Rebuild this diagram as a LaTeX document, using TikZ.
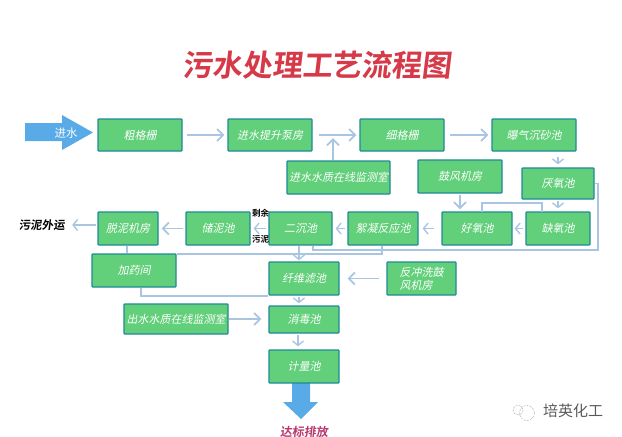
\documentclass[tikz,border=0pt]{standalone}
\usepackage{fontspec}
\usetikzlibrary{arrows.meta,calc}
\newfontfamily\cjkreg{Noto Sans CJK SC}
\newfontfamily\cjkmed{Noto Sans CJK SC Bold}
\newfontfamily\cjkit[FakeSlant=0.2]{Noto Sans CJK SC}
\newfontfamily\cjkbold[FakeSlant=0.12]{Noto Sans CJK SC Bold}
\definecolor{boxfill}{HTML}{62CF7A}
\definecolor{boxline}{HTML}{1F8A96}
\definecolor{flowline}{HTML}{A9C5E2}
\definecolor{bigblue}{HTML}{58ABE6}
\definecolor{titlered}{HTML}{D63A48}
\definecolor{endred}{HTML}{B8386E}
\tikzset{
  box/.style={draw=boxline,fill=boxfill,line width=1.3pt,rounded corners=0.8pt,inner sep=0pt,
    text=white,font=\cjkit\fontsize{11}{13}\selectfont},
  flow/.style={draw=flowline,line width=1.8pt,-{Straight Barb[length=6pt,width=12pt,line width=1.8pt]}},
  flowsmall/.style={draw=flowline,line width=1.4pt,-{Straight Barb[length=4.5pt,width=11pt,line width=1.4pt]}},
  pipe/.style={draw=flowline,line width=1.5pt},
  blacklabel/.style={inner sep=0pt,text=black},
}
\begin{document}
\begin{tikzpicture}[x=1pt,y=-1pt]
\useasboundingbox (0,0) rectangle (622,437);
% title
\node[inner sep=0pt,text=titlered,font=\cjkbold\fontsize{30}{32}\selectfont] (title) at (317,65) {污水处理工艺流程图};
% big arrows
\fill[bigblue] (25,123) -- (62,123) -- (62,115) -- (93,132.5) -- (62,150) -- (62,141) -- (25,141) -- cycle;
\fill[bigblue] (292,383) -- (310,383) -- (310,402) -- (318,402) -- (301,419) -- (283,402) -- (292,402) -- cycle;
\node[inner sep=0pt,text=white,font=\cjkreg\fontsize{11.5}{13}\selectfont] (inflow) at (66,133) {进水};
% boxes
\node[box,minimum width=84pt,minimum height=32pt] (cu) at (140,135) {粗格栅};
\node[box,minimum width=84pt,minimum height=32pt] (beng) at (270,135) {进水提升泵房};
\node[box,minimum width=84pt,minimum height=32pt] (xi) at (402,135) {细格栅};
\node[box,minimum width=84pt,minimum height=32pt] (chensha) at (534,135) {曝气沉砂池};
\node[box,minimum width=103pt,minimum height=33pt] (jinjian) at (338.5,177.5) {进水水质在线监测室};
\node[box,minimum width=84pt,minimum height=33pt] (gufeng) at (460,176.5) {鼓风机房};
\node[box,minimum width=72pt,minimum height=31pt] (yan) at (558,183.5) {厌氧池};
\node[box,minimum width=64pt,minimum height=33pt] (que) at (558,228.5) {缺氧池};
\node[box,minimum width=70pt,minimum height=33pt] (hao) at (477,228.5) {好氧池};
\node[box,minimum width=70pt,minimum height=33pt] (xu) at (383,228.5) {絮凝反应池};
\node[box,minimum width=63pt,minimum height=33pt] (er) at (300.5,228.5) {二沉池};
\node[box,minimum width=64pt,minimum height=33pt] (chu) at (218,228.5) {储泥池};
\node[box,minimum width=60pt,minimum height=33pt] (tuo) at (128,228.5) {脱泥机房};
\node[box,minimum width=84pt,minimum height=33pt] (jia) at (134,270.5) {加药间};
\node[box,minimum width=70pt,minimum height=33pt] (xian) at (304,278.5) {纤维滤池};
\node[box,minimum width=69pt,minimum height=33pt,align=left] (fan) at (421.5,278.5) {反冲洗鼓\\风机房};
\node[box,minimum width=104pt,minimum height=30pt] (chujian) at (176,319) {出水水质在线监测室};
\node[box,minimum width=70pt,minimum height=27pt] (xiao) at (304,319.5) {消毒池};
\node[box,minimum width=70pt,minimum height=33pt] (ji) at (304,366.5) {计量池};
% labels
\node[blacklabel,font=\cjkbold\fontsize{11.5}{13}\selectfont] (wai) at (42,225) {污泥外运};
\node[blacklabel,font=\cjkmed\fontsize{8.5}{10}\selectfont] (sheng) at (260.5,213) {剩余};
\node[blacklabel,font=\cjkmed\fontsize{8.5}{10}\selectfont] (wu) at (260.5,239) {污泥};
\node[inner sep=0pt,text=endred,font=\cjkbold\fontsize{12}{14}\selectfont] (da) at (304,431.5) {达标排放};
\node[inner sep=0pt,text=black!65,font=\cjkreg\fontsize{15}{17}\selectfont] (pei) at (573,411) {培英化工};
% watermark icon
\draw[black!40,densely dotted,line width=0.6pt] (527,413) circle (7.5);
\draw[black!40,densely dotted,line width=0.6pt] (518,410) circle (5);
% straight connectors
\draw[flow,shorten <=4pt,shorten >=3pt] (cu) -- (beng);
\draw[flow,shorten <=6pt,shorten >=3pt] (beng) -- (xi);
\draw[flow,shorten <=5pt,shorten >=3pt] (xi) -- (chensha);
\draw[flow] (jinjian.north -| 333,0) -- (333,138);
\draw[flowsmall,shorten <=5pt,shorten >=3pt] (chensha.south -| yan.north) -- (yan.north);
\draw[flowsmall,shorten <=1pt,shorten >=3pt] (yan) -- (que);
\draw[flowsmall,shorten <=2pt,shorten >=2pt] (que) -- (hao);
\draw[flow,shorten <=1pt,shorten >=2pt] (gufeng.south) -- (gufeng.south |- hao.north);
\draw[flowsmall,shorten <=7pt,shorten >=4pt] (hao) -- (xu);
\draw[flowsmall,shorten <=2pt,shorten >=3pt] (xu) -- (er);
\draw[flowsmall,shorten <=2pt,shorten >=3pt] (er) -- (chu);
\draw[flow,shorten <=2pt,shorten >=3pt] (chu) -- (tuo);
\draw[flowsmall,shorten <=1pt,shorten >=7pt] (tuo.west |- wai) -- (wai);
\draw[flow,shorten <=7pt,shorten >=8pt] (fan) -- (xian);
\draw[flow,shorten <=0pt,shorten >=7pt] (chujian) -- (xiao.west |- chujian);
\draw[flowsmall,shorten <=1pt,shorten >=2pt] (xian.south -| 299,0) -- (xiao.north -| 299,0);
\draw[flowsmall,shorten <=1pt,shorten >=3pt] (xiao.south -| 298,0) -- (ji.north -| 298,0);
\draw[flowsmall,shorten >=1pt] (er.south -| 299,0) -- (xian.north -| 299,0);
% routed pipes
\coordinate (queout) at (542,212.0);
\coordinate (haoin) at (482,212.0);
\draw[pipe] (queout) |- (haoin |- 0,203) -- (haoin);
\coordinate (yanout) at (yan.east);
\coordinate (busa) at (598,250);
\draw[pipe] (yanout) -| (busa) -- (313,250) -- (er.south -| 313,0);
\coordinate (xuout) at (xu.south);
\draw[pipe] (xuout -| 382,0) -- (382,254) -- (jia.east |- 0,254);
\draw[pipe] (jia.south -| 141,0) |- (xian.west |- 0,296);
\draw[pipe] (tuo.south -| 127,0) -- (jia.north -| 127,0);
\end{tikzpicture}
\end{document}
